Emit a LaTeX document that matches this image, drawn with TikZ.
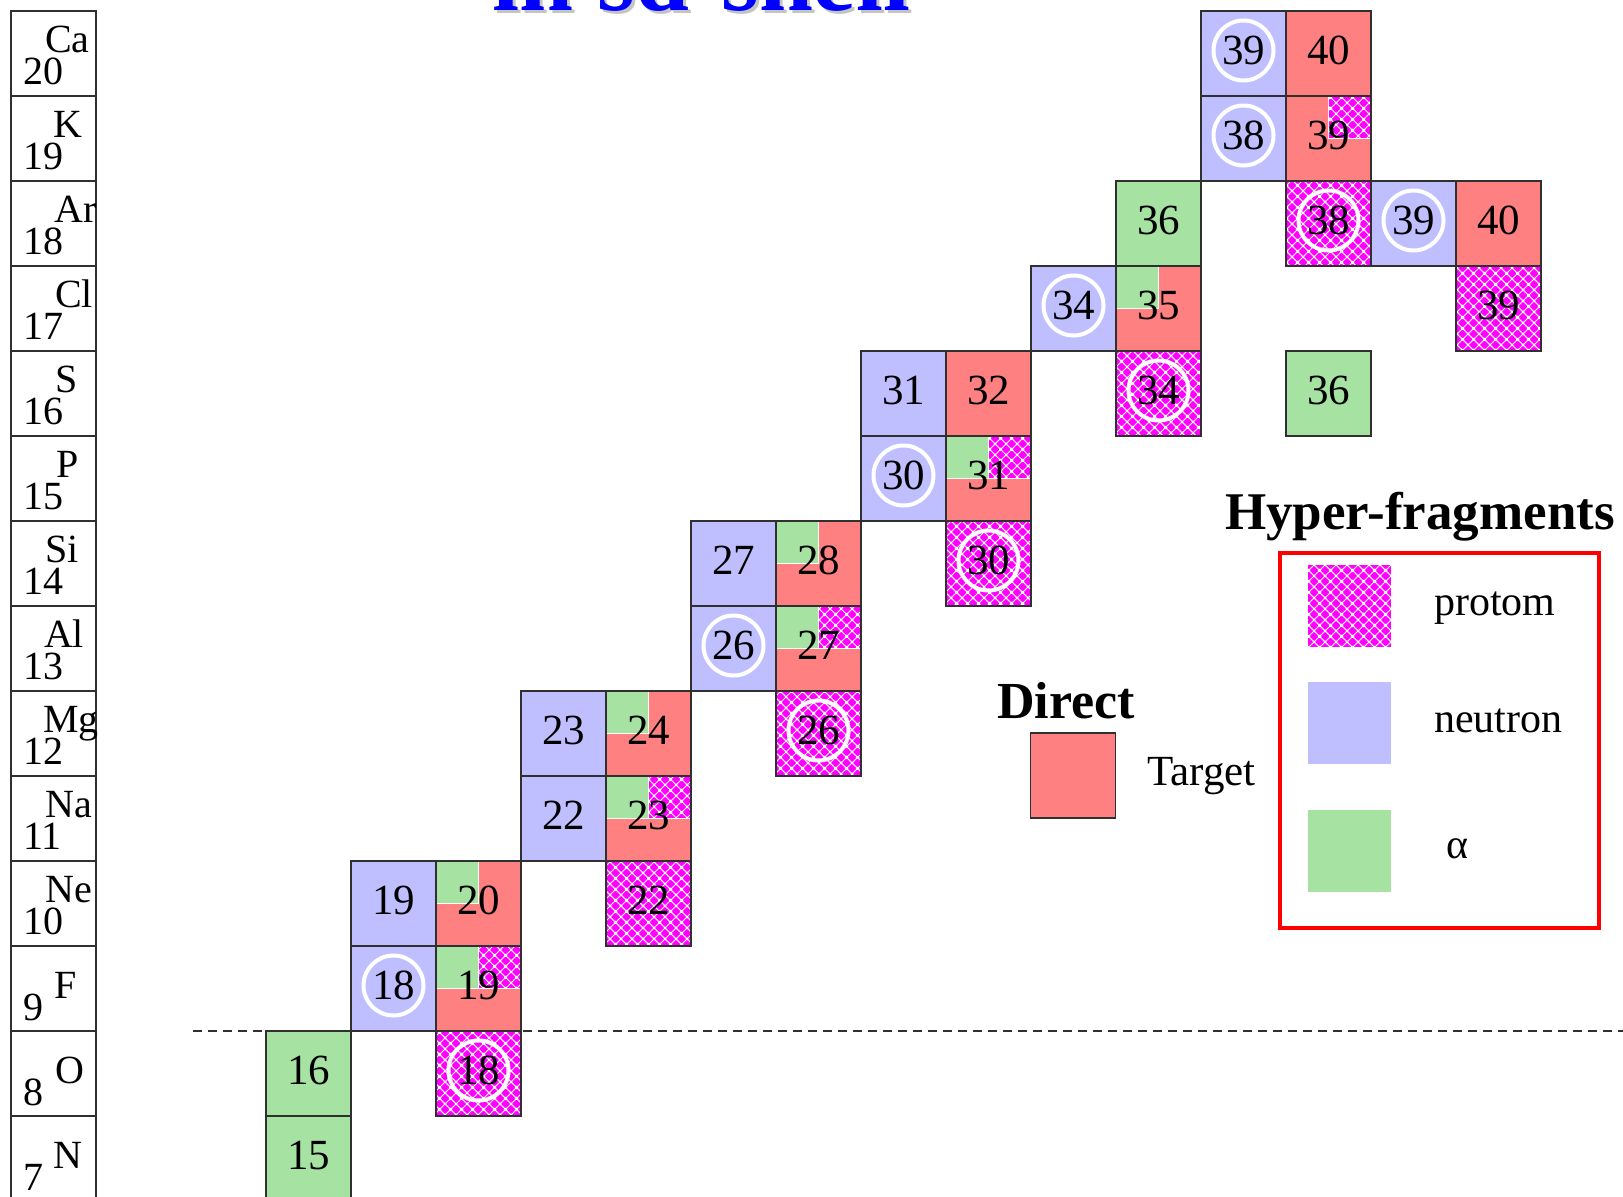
\documentclass[tikz,border=0pt]{standalone}
\usepackage{fontspec}
\setmainfont{Liberation Serif}
\usetikzlibrary{patterns}
\definecolor{neut}{HTML}{BFBFFF}
\definecolor{targ}{HTML}{FF8080}
\definecolor{alph}{HTML}{A6E3A3}
\definecolor{prot}{HTML}{FF00FF}
\definecolor{titleblue}{HTML}{0000FF}
\definecolor{shadowgray}{HTML}{C4C4C4}
\definecolor{framered}{HTML}{FF0000}
\definecolor{linegray}{HTML}{303030}

\pgfdeclarepatternformonly{protpat}{\pgfpoint{0pt}{0pt}}{\pgfpoint{11pt}{11pt}}{\pgfpoint{11pt}{11pt}}{%
  \pgfsetlinewidth{1.1pt}%
  \pgfpathmoveto{\pgfpoint{0pt}{0pt}}\pgfpathlineto{\pgfpoint{11pt}{11pt}}%
  \pgfpathmoveto{\pgfpoint{0pt}{11pt}}\pgfpathlineto{\pgfpoint{11pt}{0pt}}%
  \pgfusepath{stroke}%
  \pgfpathcircle{\pgfpoint{5.5pt}{5.5pt}}{1.5pt}%
  \pgfpathcircle{\pgfpoint{0pt}{0pt}}{1.5pt}%
  \pgfpathcircle{\pgfpoint{11pt}{0pt}}{1.5pt}%
  \pgfpathcircle{\pgfpoint{0pt}{11pt}}{1.5pt}%
  \pgfpathcircle{\pgfpoint{11pt}{11pt}}{1.5pt}%
  \pgfusepath{fill}%
}

\newcommand\pfillall{\fill[pattern=protpat, pattern color=white] (path picture bounding box.south west) rectangle (path picture bounding box.north east);}
\newcommand\pring{\draw[white, line width=4pt] ([yshift=3pt]path picture bounding box.center) circle[radius=30pt];}
\newcommand\palpha{\fill[alph] (path picture bounding box.north west) rectangle (path picture bounding box.center);}
\newcommand\pproton{\fill[prot] (path picture bounding box.north) rectangle (path picture bounding box.east);
  \fill[pattern=protpat, pattern color=white] (path picture bounding box.north) rectangle (path picture bounding box.east);}
\newcommand\pwhiteA{\draw[white, line width=1.3pt] (path picture bounding box.north) -- (path picture bounding box.center) -- (path picture bounding box.west);}
\newcommand\pwhiteP{\draw[white, line width=1.3pt] (path picture bounding box.north) -- (path picture bounding box.center) -- (path picture bounding box.east);}
\newcommand\pwhiteAP{\draw[white, line width=1.3pt] (path picture bounding box.north) -- (path picture bounding box.center) (path picture bounding box.west) -- (path picture bounding box.east);}

\newcommand\cellfont{\fontsize{43pt}{43pt}\selectfont}
\newcommand\elemfont{\fontsize{40pt}{40pt}\selectfont}

\tikzset{
  cellbase/.style={draw=linegray, line width=1.6pt, minimum size=85pt, inner sep=0pt, text depth=6pt, font=\cellfont},
  ncell/.style={cellbase, fill=neut},
  ncellR/.style={cellbase, fill=neut, path picture={\pring}},
  tcell/.style={cellbase, fill=targ},
  acell/.style={cellbase, fill=alph},
  pcell/.style={cellbase, fill=prot, path picture={\pfillall}},
  pcellR/.style={cellbase, fill=prot, path picture={\pfillall\pring}},
  tA/.style={tcell, path picture={\palpha\pwhiteA}},
  tAP/.style={tcell, path picture={\palpha\pproton\pwhiteAP}},
  tP/.style={tcell, path picture={\pproton\pwhiteP}},
  elembox/.style={draw=linegray, line width=1.6pt, minimum size=85pt, inner sep=0pt, fill=white},
  elemtext/.style={inner sep=0pt, font=\elemfont},
  txt/.style={inner sep=0pt, anchor=base west},
  swatch/.style={minimum width=83pt, minimum height=82pt, inner sep=0pt},
  keyframe/.style={draw=framered, line width=4pt, minimum width=319pt, minimum height=375pt, inner sep=0pt},
}

% isotope cell: style, name, column, Z, label
\newcommand\isot[5]{\node[#1] (#2) at ({308.5+85*#3},{53.5+85*(20-#4)}) {#5};}
% element row, symbol raised right
\newcommand\elemhi[3]{%
  \node[elembox] (box#2) at (53.5,{53.5+85*(20-#1)}) {};
  \node[elemtext, anchor=base] (sym#2) at (#3,{52+85*(20-#1)}) {#2};
  \node[elemtext, anchor=base west] (z#2) at (23,{84+85*(20-#1)}) {#1};}
\newcommand\elemlo[3]{%
  \node[elembox] (box#2) at (53.5,{53.5+85*(20-#1)}) {};
  \node[elemtext, anchor=base] (sym#2) at (#3,{63+85*(20-#1)}) {#2};
  \node[elemtext, anchor=base west] (z#2) at (23,{85+85*(20-#1)}) {#1};}

\begin{document}
\begin{tikzpicture}[x=1pt, y=-1pt]
\useasboundingbox (0,0) rectangle (1623,1197);
\clip (0,0) rectangle (1623,1197);
\fill[white] (0,0) rectangle (1623,1197);

% dashed separator
\coordinate (dashL) at (193,1031);
\coordinate (dashR) at (1623,1031);
\draw[linegray, line width=1.3pt, dash pattern=on 9pt off 6pt] (dashL) -- (dashR);

% element column
\elemhi{20}{Ca}{67.5}
\elemhi{19}{K}{68}
\elemhi{18}{Ar}{76}
\elemhi{17}{Cl}{74}
\elemhi{16}{S}{66.5}
\elemhi{15}{P}{68}
\elemhi{14}{Si}{62}
\elemhi{13}{Al}{64}
\elemhi{12}{Mg}{71}
\elemhi{11}{Na}{68.5}
\elemhi{10}{Ne}{68.5}
\elemlo{9}{F}{65.5}
\elemlo{8}{O}{70}
\elemlo{7}{N}{68}

% isotopes
\isot{acell}{N15}{0}{7}{15}
\isot{acell}{O16}{0}{8}{16}
\isot{pcellR}{O18}{2}{8}{18}
\isot{ncellR}{F18}{1}{9}{18}
\isot{tAP}{F19}{2}{9}{19}
\isot{ncell}{Ne19}{1}{10}{19}
\isot{tA}{Ne20}{2}{10}{20}
\isot{pcell}{Ne22}{4}{10}{22}
\isot{ncell}{Na22}{3}{11}{22}
\isot{tAP}{Na23}{4}{11}{23}
\isot{ncell}{Mg23}{3}{12}{23}
\isot{tA}{Mg24}{4}{12}{24}
\isot{pcellR}{Mg26}{6}{12}{26}
\isot{ncellR}{Al26}{5}{13}{26}
\isot{tAP}{Al27}{6}{13}{27}
\isot{ncell}{Si27}{5}{14}{27}
\isot{tA}{Si28}{6}{14}{28}
\isot{pcellR}{Si30}{8}{14}{30}
\isot{ncellR}{P30}{7}{15}{30}
\isot{tAP}{P31}{8}{15}{31}
\isot{ncell}{S31}{7}{16}{31}
\isot{tcell}{S32}{8}{16}{32}
\isot{pcellR}{S34}{10}{16}{34}
\isot{acell}{S36}{12}{16}{36}
\isot{ncellR}{Cl34}{9}{17}{34}
\isot{tA}{Cl35}{10}{17}{35}
\isot{pcell}{Cl39}{14}{17}{39}
\isot{acell}{Ar36}{10}{18}{36}
\isot{pcellR}{Ar38}{12}{18}{38}
\isot{ncellR}{Ar39}{13}{18}{39}
\isot{tcell}{Ar40}{14}{18}{40}
\isot{ncellR}{K38}{11}{19}{38}
\isot{tP}{K39}{12}{19}{39}
\isot{ncellR}{Ca39}{11}{20}{39}
\isot{tcell}{Ca40}{12}{20}{40}

% Direct legend
\node[txt, font=\fontsize{52pt}{52pt}\selectfont\bfseries] (direct) at (997,718) {Direct};
\node[tcell] (tkey) at (1073,775.5) {};
\node[txt, font=\fontsize{43pt}{43pt}\selectfont] (tkeytext) at (1147,785) {Target};

% Hyper-fragments legend
\node[txt, font=\fontsize{53pt}{53pt}\selectfont\bfseries] (hf) at (1225,529) {Hyper-fragments};
\node[keyframe] (keybox) at (1439.5,740.5) {};
\node[swatch, fill=prot, path picture={\pfillall}] (kp) at (1349.5,606) {};
\node[swatch, fill=neut] (kn) at (1349.5,722.5) {};
\node[swatch, fill=alph] (ka) at (1349.5,850.5) {};
\node[txt, font=\fontsize{42pt}{42pt}\selectfont] (kptext) at (1434,615) {protom};
\node[txt, font=\fontsize{42pt}{42pt}\selectfont] (kntext) at (1434,732) {neutron};
\node[txt, font=\fontsize{42pt}{42pt}\selectfont] (katext) at (1446,858) {α};

% title (cut off at top)
\node[txt, font=\fontsize{97pt}{97pt}\selectfont\bfseries, text=shadowgray] (titleshadow) at (495,13) {in sd-shell};
\node[txt, font=\fontsize{97pt}{97pt}\selectfont\bfseries, text=titleblue] (title) at (492,10) {in sd-shell};
\end{tikzpicture}
\end{document}
